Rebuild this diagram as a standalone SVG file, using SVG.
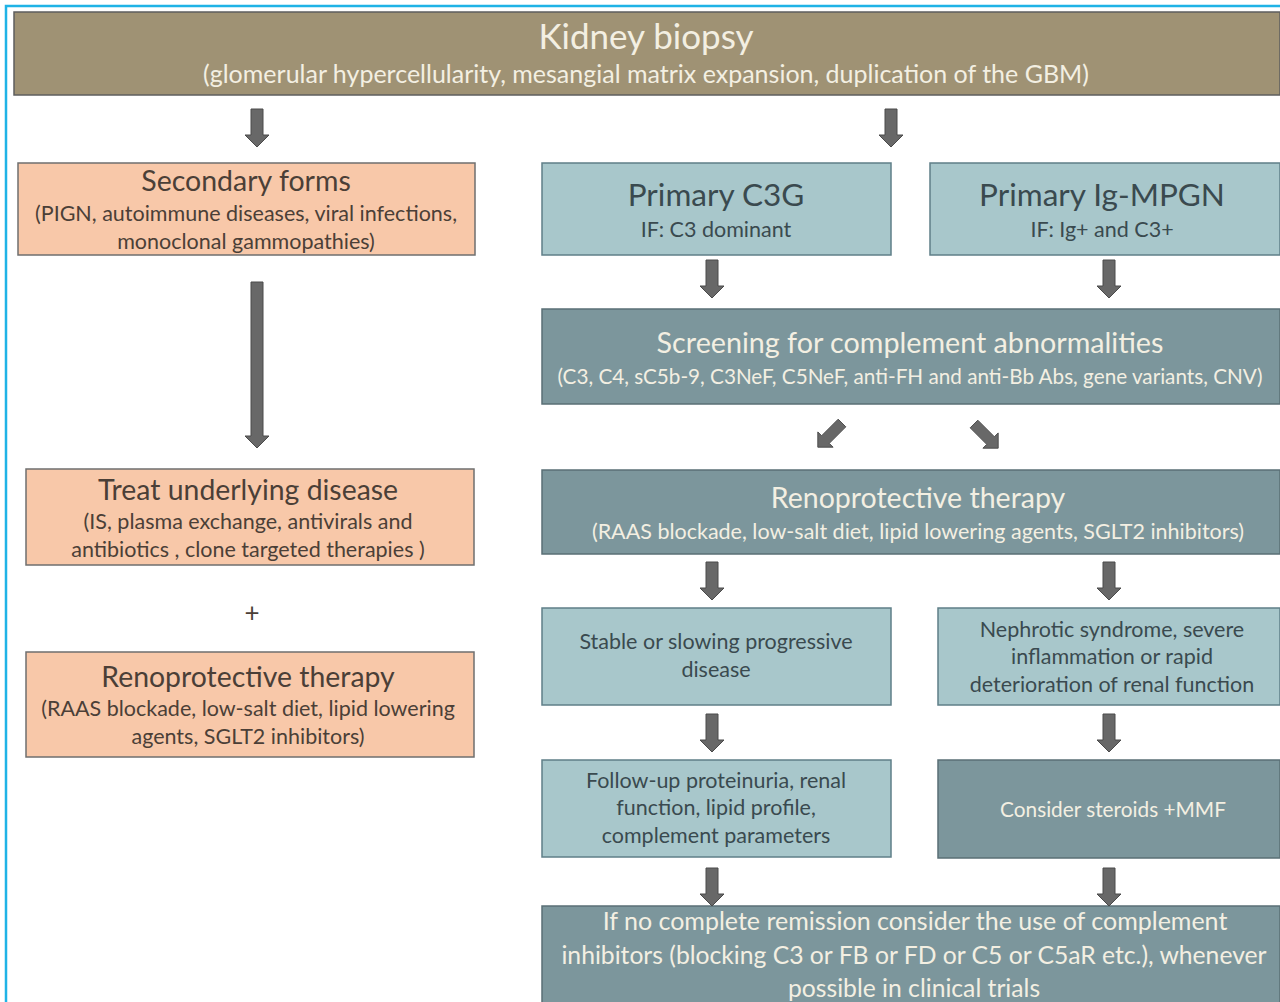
<svg xmlns="http://www.w3.org/2000/svg" width="1280" height="1002" viewBox="0 0 1280 1002">
<defs>
<style>
text{font-family:Lato,"Open Sans",sans-serif;text-anchor:middle}
.tan{fill:#9f9274;stroke:#5e5e5e;stroke-width:1.5}
.org{fill:#f8c8a9;stroke:#6f6f6f;stroke-width:1.5}
.lt{fill:#a8c7cb;stroke:#5f7f88;stroke-width:1.5}
.dk{fill:#7c969c;stroke:#5a6f75;stroke-width:1.5}
.dtx{fill:#3a4a4f}
.otx{fill:#4b3f37}
.ltx{fill:#f3efe2}
.s{font-size:21.5px}
.arr{fill:#686868;stroke:#4a4a4a;stroke-width:1}
</style>
<path id="a" d="M-6,0 H6 V26 H12 L0,38 L-12,26 H-6 Z"/>
</defs>
<rect x="0" y="0" width="1280" height="1002" fill="#ffffff"/>
<path d="M6,1002 V6 H1280" fill="none" stroke="#1fb3e6" stroke-width="2.5"/>

<g id="kidney-biopsy">
<rect class="tan" x="14" y="12" width="1266" height="83"/>
<text class="ltx" x="646" y="49" font-size="35">Kidney biopsy</text>
<text class="ltx" x="646" y="83" font-size="25">(glomerular hypercellularity, mesangial matrix expansion, duplication of the GBM)</text>
</g>

<g id="secondary-forms">
<rect class="org" x="18" y="163" width="457" height="92"/>
<text class="otx" x="246" y="191" font-size="28.5">Secondary forms</text>
<text class="otx s" x="246" y="221">(PIGN, autoimmune  diseases, viral infections,</text>
<text class="otx s" x="246" y="249">monoclonal  gammopathies)</text>
</g>

<g id="primary-c3g">
<rect class="lt" x="542" y="163" width="349" height="92"/>
<text class="dtx" x="716" y="206" font-size="31.5">Primary C3G</text>
<text class="dtx s" x="716" y="237">IF: C3 dominant</text>
</g>

<g id="primary-ig-mpgn">
<rect class="lt" x="930" y="163" width="350" height="92"/>
<text class="dtx" x="1102" y="206" font-size="31.5">Primary Ig-MPGN</text>
<text class="dtx s" x="1102" y="237">IF: Ig+ and C3+</text>
</g>

<g id="screening">
<rect class="dk" x="542" y="309" width="738" height="95"/>
<text class="ltx" x="910" y="353" font-size="28.7">Screening for complement  abnormalities</text>
<text class="ltx" x="910" y="384" font-size="20.7">(C3, C4, sC5b-9, C3NeF, C5NeF, anti-FH and anti-Bb Abs, gene variants, CNV)</text>
</g>

<g id="renoprotective-right">
<rect class="dk" x="542" y="470" width="738" height="84"/>
<text class="ltx" x="918" y="508" font-size="28.5">Renoprotective  therapy</text>
<text class="ltx s" x="918" y="539">(RAAS blockade, low-salt diet, lipid lowering agents, SGLT2 inhibitors)</text>
</g>

<g id="stable">
<rect class="lt" x="542" y="608" width="349" height="97"/>
<text class="dtx s" x="716" y="649">Stable or slowing progressive</text>
<text class="dtx s" x="716" y="677">disease</text>
</g>

<g id="nephrotic">
<rect class="lt" x="938" y="608" width="342" height="97"/>
<text class="dtx s" x="1112" y="637">Nephrotic syndrome, severe</text>
<text class="dtx s" x="1112" y="664">inflammation or rapid</text>
<text class="dtx s" x="1112" y="692">deterioration of renal function</text>
</g>

<g id="follow-up">
<rect class="lt" x="542" y="760" width="349" height="97"/>
<text class="dtx s" x="716" y="788">Follow-up proteinuria, renal</text>
<text class="dtx s" x="716" y="815">function, lipid profile,</text>
<text class="dtx s" x="716" y="843">complement  parameters</text>
</g>

<g id="steroids">
<rect class="dk" x="938" y="760" width="342" height="98"/>
<text class="ltx" x="1113" y="817" font-size="20.8">Consider steroids +MMF</text>
</g>

<g id="complement-inhibitors">
<rect class="dk" x="542" y="906" width="738" height="100"/>
<text class="ltx" x="915" y="930" font-size="25">If no complete remission consider the use of complement</text>
<text class="ltx" x="914" y="964" font-size="24.7">inhibitors (blocking C3 or FB or FD or C5 or C5aR etc.), whenever</text>
<text class="ltx" x="914" y="997" font-size="24.7">possible in clinical trials</text>
</g>

<g id="treat-underlying">
<rect class="org" x="26" y="469" width="448" height="96"/>
<text class="otx" x="248" y="500" font-size="28.4">Treat underlying disease</text>
<text class="otx s" x="248" y="529">(IS, plasma exchange, antivirals and</text>
<text class="otx s" x="248" y="557">antibiotics , clone targeted therapies )</text>
</g>

<g id="plus">
<text class="otx" x="252" y="622" font-size="26">+</text>
</g>

<g id="renoprotective-left">
<rect class="org" x="26" y="652" width="448" height="105"/>
<text class="otx" x="248" y="687" font-size="28.4">Renoprotective  therapy</text>
<text class="otx s" x="248" y="716">(RAAS blockade, low-salt diet, lipid lowering</text>
<text class="otx s" x="248" y="744">agents, SGLT2 inhibitors)</text>
</g>

<g id="connectors">
<use href="#a" class="arr" transform="translate(257,109)"/>
<use href="#a" class="arr" transform="translate(891,109)"/>
<path class="arr" d="M251,282 H263 V436 H269 L257,448 L245,436 H251 Z"/>
<use href="#a" class="arr" transform="translate(712,260)"/>
<use href="#a" class="arr" transform="translate(1109,260)"/>
<use href="#a" class="arr" transform="translate(842,423) rotate(45) scale(0.9)"/>
<use href="#a" class="arr" transform="translate(974,424) rotate(-45) scale(0.9)"/>
<use href="#a" class="arr" transform="translate(712,562)"/>
<use href="#a" class="arr" transform="translate(1109,562)"/>
<use href="#a" class="arr" transform="translate(712,714)"/>
<use href="#a" class="arr" transform="translate(1109,714)"/>
<use href="#a" class="arr" transform="translate(712,868)"/>
<use href="#a" class="arr" transform="translate(1109,868)"/>
</g>
</svg>
